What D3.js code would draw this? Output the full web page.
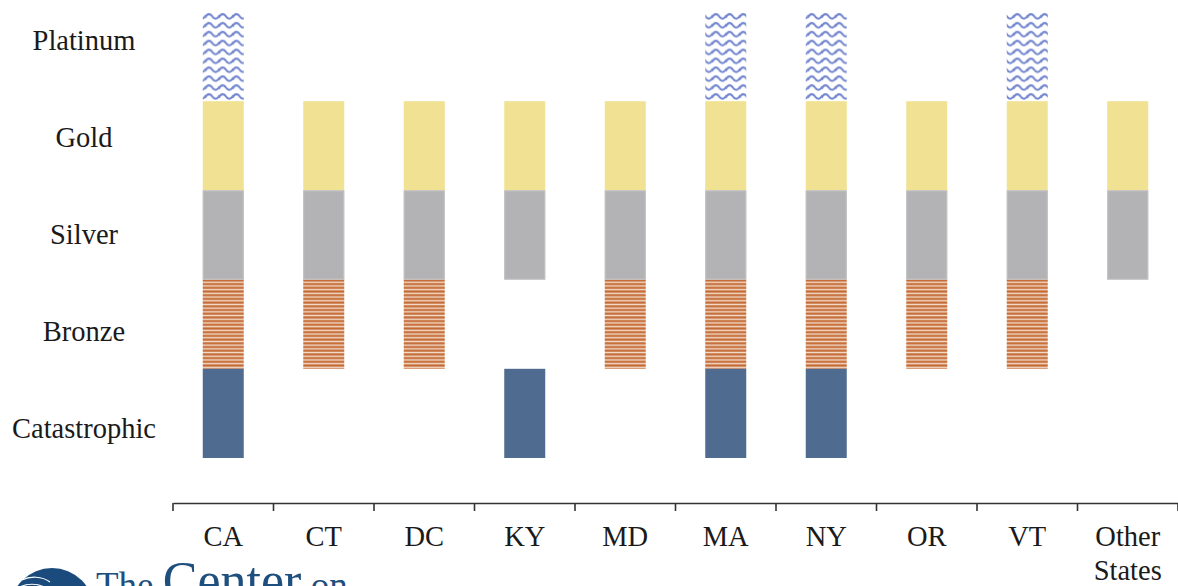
<!DOCTYPE html>
<html>
<head>
<meta charset="utf-8">
<script src="https://cdn.jsdelivr.net/npm/d3@7"></script>
<style>
  html, body { margin: 0; padding: 0; background: #ffffff; }
  svg { display: block; }
  text { font-family: "Liberation Serif", "Times New Roman", serif; fill: #1a1a1a; }
</style>
</head>
<body>
<svg id="chart" width="1178" height="586"></svg>
<script>
// Metal tiers offered in each state's marketplace
const states = ["CA", "CT", "DC", "KY", "MD", "MA", "NY", "OR", "VT", "Other States"];
const tiers = ["Platinum", "Gold", "Silver", "Bronze", "Catastrophic"];

// 1 = tier offered, 0 = not offered (same order as states)
const platinum     = [1, 0, 0, 0, 0, 1, 1, 0, 1, 0];
const gold         = [1, 1, 1, 1, 1, 1, 1, 1, 1, 1];
const silver       = [1, 1, 1, 1, 1, 1, 1, 1, 1, 1];
const bronze       = [1, 1, 1, 0, 1, 1, 1, 1, 1, 0];
const catastrophic = [1, 0, 0, 1, 0, 1, 1, 0, 0, 0];

const offered = { Platinum: platinum, Gold: gold, Silver: silver, Bronze: bronze, Catastrophic: catastrophic };

const svg = d3.select("#chart");
const defs = svg.append("defs");

// Wavy fill for Platinum
const wave = defs.append("pattern")
  .attr("id", "wave").attr("patternUnits", "userSpaceOnUse")
  .attr("width", 13.7).attr("height", 8.9).attr("y", 12);
wave.append("rect").attr("width", 13.7).attr("height", 8.9).attr("fill", "#ffffff");
wave.append("path")
  .attr("d", "M-0.5,5.6 C2,1.2 4.8,1.2 6.85,4.4 C8.9,7.6 11.7,7.6 14.2,3.2")
  .attr("fill", "none").attr("stroke", "#7487cf").attr("stroke-width", 2.1);

// Horizontal stripe fill for Bronze
const stripes = defs.append("pattern")
  .attr("id", "stripes").attr("patternUnits", "userSpaceOnUse")
  .attr("width", 10).attr("height", 3.7).attr("y", 279);
stripes.append("rect").attr("width", 10).attr("height", 3.7).attr("fill", "#f3dccb");
stripes.append("rect").attr("y", 0.3).attr("width", 10).attr("height", 2.2).attr("fill", "#c46a34");

const fills = {
  Platinum: "url(#wave)",
  Gold: "#f0e292",
  Silver: "#b3b3b5",
  Bronze: "url(#stripes)",
  Catastrophic: "#4f6b8f"
};

const x = d3.scaleBand().domain(states).range([173, 1178]);
const y = d3.scaleBand().domain(tiers).range([12, 458]);
const labelY = d3.scalePoint().domain(tiers).range([50, 438]);
const barW = 41;

// Cells
const cells = [];
tiers.forEach(t => states.forEach((s, i) => { if (offered[t][i]) cells.push({ tier: t, state: s }); }));

svg.append("g").selectAll("rect")
  .data(cells)
  .join("rect")
  .attr("x", d => x(d.state) + (x.bandwidth() - barW) / 2)
  .attr("y", d => y(d.tier))
  .attr("width", barW)
  .attr("height", y.bandwidth())
  .attr("fill", d => fills[d.tier]);

// Silver cells have a faint light edge
svg.append("g").selectAll("rect")
  .data(cells.filter(d => d.tier === "Silver"))
  .join("rect")
  .attr("x", d => x(d.state) + (x.bandwidth() - barW) / 2 + 0.5)
  .attr("y", d => y(d.tier) + 0.5)
  .attr("width", barW - 1)
  .attr("height", y.bandwidth() - 1)
  .attr("fill", "none").attr("stroke", "#c4c4c6").attr("stroke-width", 1);

// Tier labels
svg.append("g").selectAll("text")
  .data(tiers)
  .join("text")
  .attr("x", 84)
  .attr("y", d => labelY(d))
  .attr("text-anchor", "middle")
  .attr("font-size", 28.5)
  .text(d => d);

// State axis: boundary ticks with centred labels
const axisY = 503;
const ax = svg.append("g").attr("transform", `translate(0,${axisY})`);
ax.append("g")
  .call(d3.axisBottom(x).tickSize(0).tickPadding(0).tickFormat(""))
  .call(g => g.select(".domain").attr("stroke", "#333").attr("stroke-width", 1.6))
  .call(g => g.selectAll(".tick").remove());

const bounds = states.map(s => x(s)).concat([x.range()[1]]);
ax.selectAll("line.bound")
  .data(bounds)
  .join("line")
  .attr("class", "bound")
  .attr("x1", d => d).attr("x2", d => d)
  .attr("y1", 0).attr("y2", 8)
  .attr("stroke", "#333").attr("stroke-width", 1.6);

const lbl = ax.selectAll("text.state")
  .data(states)
  .join("text")
  .attr("class", "state")
  .attr("text-anchor", "middle")
  .attr("font-size", 28.5)
  .attr("x", d => x(d) + x.bandwidth() / 2);
lbl.each(function (d) {
  const words = d.split(" ");
  const t = d3.select(this);
  words.forEach((w, i) => {
    t.append("tspan")
      .attr("x", x(d) + x.bandwidth() / 2)
      .attr("y", 43 + i * 34)
      .text(w);
  });
});

// Organisation mark in the lower-left corner
const logo = svg.append("g");
logo.append("circle").attr("cx", 52).attr("cy", 610).attr("r", 42).attr("fill", "#1b4b7d");
logo.append("path")
  .attr("d", "M22,580 C30,576 42,576 50,582")
  .attr("fill", "none").attr("stroke", "#ffffff").attr("stroke-width", 1.2);
logo.append("path")
  .attr("d", "M18,588 C26,583 38,583 46,588")
  .attr("fill", "none").attr("stroke", "#ffffff").attr("stroke-width", 1.2);
const lt = logo.append("text").attr("x", 96).attr("y", 598).style("fill", "#1f4f7e");
lt.append("tspan").attr("font-size", 37).text("The ");
lt.append("tspan").attr("font-size", 52).text("Center");
lt.append("tspan").attr("font-size", 37).text(" on");
</script>
</body>
</html>
